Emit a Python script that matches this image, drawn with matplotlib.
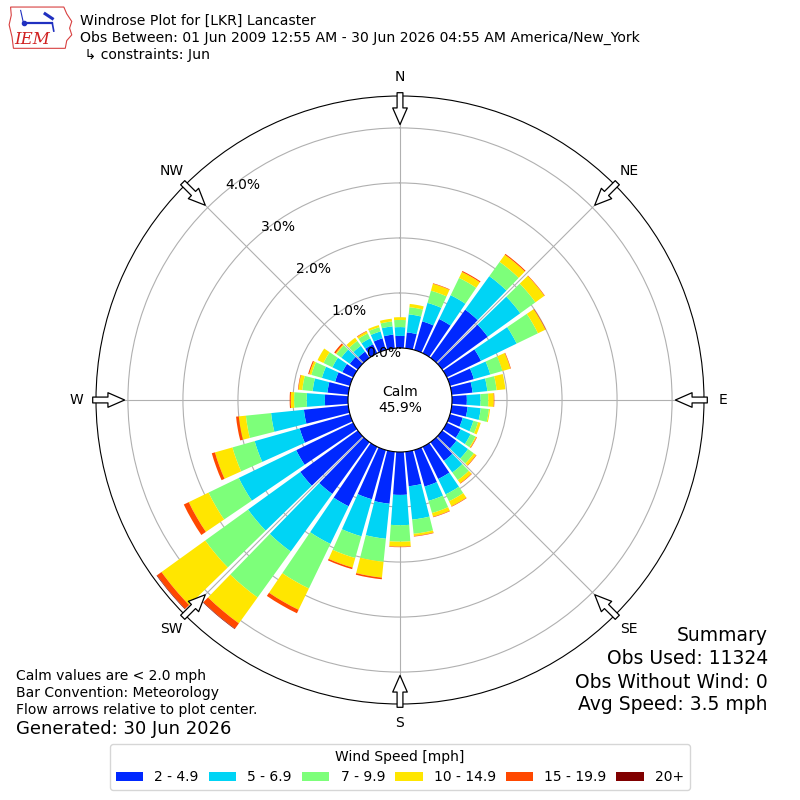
import numpy as np
import matplotlib
matplotlib.use("Agg")
import matplotlib.pyplot as plt
from matplotlib.patches import Patch, Polygon

# direction bins (degrees, meteorological) and frequency (%) per speed bin
directions = np.arange(0, 360, 10)
speed_labels = ["2 - 4.9", "5 - 6.9", "7 - 9.9", "10 - 14.9", "15 - 19.9", "20+"]
speed_colors = ["#0028ff", "#00d4f5", "#7dff7a", "#ffe600", "#ff4800", "#800000"]

spd_2_5 = [0.22, 0.29, 0.54, 0.69, 1.08, 1.02, 0.69, 0.45, 0.38, 0.27, 0.29, 0.24,
           0.28, 0.32, 0.42, 0.65, 0.69, 0.63, 0.78, 0.95, 0.93, 1.20, 1.16, 1.29,
           1.15, 0.95, 0.81, 0.42, 0.38, 0.28, 0.22, 0.18, 0.14, 0.18, 0.22, 0.25]
spd_5_7 = [0.16, 0.33, 0.35, 0.48, 0.75, 0.73, 0.72, 0.31, 0.27, 0.25, 0.24, 0.20,
           0.20, 0.26, 0.26, 0.31, 0.27, 0.61, 0.55, 0.64, 0.70, 0.76, 1.29, 1.17,
           1.16, 0.85, 0.60, 0.33, 0.27, 0.25, 0.20, 0.19, 0.13, 0.12, 0.13, 0.15]
spd_7_10 = [0.13, 0.13, 0.23, 0.35, 0.32, 0.34, 0.43, 0.23, 0.17, 0.14, 0.15, 0.09,
            0.10, 0.13, 0.17, 0.14, 0.23, 0.26, 0.30, 0.42, 0.41, 0.90, 1.03, 0.96,
            0.61, 0.42, 0.46, 0.23, 0.19, 0.20, 0.18, 0.11, 0.11, 0.10, 0.08, 0.09]
spd_10_15 = [0.05, 0.06, 0.13, 0.12, 0.16, 0.20, 0.15, 0.15, 0.16, 0.10, 0.02, 0.05,
             0.02, 0.05, 0.07, 0.10, 0.07, 0.04, 0.09, 0.29, 0.18, 0.43, 0.58, 0.98,
             0.40, 0.33, 0.13, 0.06, 0.07, 0.04, 0.12, 0.02, 0.07, 0.04, 0.04, 0.05]
spd_15_20 = [0.00, 0.00, 0.01, 0.02, 0.02, 0.01, 0.01, 0.01, 0.00, 0.01, 0.00, 0.00,
             0.01, 0.01, 0.01, 0.01, 0.01, 0.01, 0.01, 0.03, 0.03, 0.07, 0.12, 0.10,
             0.10, 0.06, 0.05, 0.02, 0.01, 0.02, 0.00, 0.03, 0.00, 0.01, 0.00, 0.00]
spd_20_up = [0.00, 0.00, 0.00, 0.00, 0.00, 0.00, 0.00, 0.00, 0.00, 0.00, 0.00, 0.00,
             0.00, 0.00, 0.00, 0.00, 0.00, 0.00, 0.00, 0.00, 0.00, 0.00, 0.01, 0.01,
             0.00, 0.00, 0.00, 0.00, 0.00, 0.00, 0.00, 0.00, 0.00, 0.00, 0.00, 0.00]

calm_pct = 45.9
ring_values = [0, 1, 2, 3, 4]
compass = ["N", "NE", "E", "SE", "S", "SW", "W", "NW"]

summary = ["Summary", "Obs Used: 11324", "Obs Without Wind: 0", "Avg Speed: 3.5 mph"]
notes = ["Calm values are < 2.0 mph", "Bar Convention: Meteorology",
         "Flow arrows relative to plot center."]

rmax = 4.58
rorigin = 0.945

fig = plt.figure(figsize=(8, 8), dpi=100)
ax = fig.add_axes([0.12, 0.12, 0.76, 0.76], projection="polar")
ax.set_theta_zero_location("N")
ax.set_theta_direction(-1)
ax.set_ylim(0, rmax)
ax.set_rorigin(-rorigin)

theta = np.radians(directions)
width = np.radians(8.4)
bottom = np.zeros(len(directions))
series = [spd_2_5, spd_5_7, spd_7_10, spd_10_15, spd_15_20, spd_20_up]
for vals, color in zip(series, speed_colors):
    vals = np.array(vals)
    ax.bar(theta, vals, width=width, bottom=bottom, color=color,
           linewidth=0, zorder=2)
    bottom = bottom + vals

ax.set_yticks(ring_values)
ax.set_yticklabels([])
ax.set_xticks(np.radians(np.arange(0, 360, 45)))
ax.set_xticklabels(compass, fontsize=10)
ax.tick_params(axis="x", pad=3.5)
ax.grid(True, color="#b0b0b0", lw=0.8, zorder=0)
ax.set_axisbelow(True)

for v in ring_values:
    ax.text(np.radians(320), v, "%.1f%%" % v, ha="left", va="bottom",
            fontsize=10, zorder=3)

# inward flow arrows
for ang in np.arange(0, 360, 45):
    t = np.radians(ang)
    ax.annotate("", xy=(t, rmax - 0.52), xytext=(t, rmax + 0.06),
                arrowprops=dict(arrowstyle="simple,head_length=1.2,head_width=1.05,tail_width=0.42",
                                fc="white", ec="black", lw=0.9, shrinkA=0, shrinkB=0,
                                mutation_scale=10),
                annotation_clip=False, zorder=5)

ax.text(0.5, 0.5, "Calm\n%.1f%%" % calm_pct, transform=ax.transAxes,
        ha="center", va="center", fontsize=10)

# header
fig.text(0.1, 0.974, "Windrose Plot for [LKR] Lancaster", fontsize=10.1, va="center")
fig.text(0.1, 0.9525, "Obs Between: 01 Jun 2009 12:55 AM - 30 Jun 2026 04:55 AM America/New_York",
         fontsize=10.1, va="center")
fig.text(0.1, 0.931, " \u21b3 constraints: Jun", fontsize=10.1, va="center")

# rough IEM logo
lax = fig.add_axes([0.006, 0.936, 0.09, 0.06])
lax.set_xlim(0, 1)
lax.set_ylim(0, 1)
lax.axis("off")
iowa = [(0.08, 0.92), (0.82, 0.92), (0.86, 0.78), (0.93, 0.62), (0.9, 0.48),
        (0.93, 0.34), (0.86, 0.22), (0.84, 0.06), (0.12, 0.06), (0.1, 0.3),
        (0.06, 0.55), (0.09, 0.75)]
lax.add_patch(Polygon(iowa, closed=True, fill=False, ec="#d84040", lw=0.8))
lax.plot([0.3, 0.66], [0.58, 0.58], color="#2030c0", lw=1.6)
lax.plot([0.26], [0.58], marker="o", ms=3, color="#2030c0")
lax.plot([0.56, 0.66], [0.78, 0.68], color="#2030c0", lw=2.2)
lax.plot([0.66, 0.68], [0.58, 0.42], color="#2030c0", lw=1.2)
lax.plot([0.26, 0.22], [0.58, 0.85], color="#2030c0", lw=0.8)
lax.text(0.38, 0.24, "IEM", color="#d02020", fontsize=12, style="italic",
         family="DejaVu Serif", ha="center", va="center")

# notes
for i, line in enumerate(notes):
    fig.text(0.02, 0.155 - i * 0.0213, line, fontsize=10, va="center")
fig.text(0.02, 0.089, "Generated: 30 Jun 2026", fontsize=13, va="center")

ys = [0.206, 0.1775, 0.1475, 0.119]
for line, y in zip(summary, ys):
    fig.text(0.96, y, line, fontsize=13.5, ha="right", va="center")

handles = [Patch(facecolor=c, label=l) for c, l in zip(speed_colors, speed_labels)]
fig.legend(handles=handles, loc="lower center", bbox_to_anchor=(0.5, 0.0125),
           ncol=6, title="Wind Speed [mph]", fontsize=10, title_fontsize=10,
           columnspacing=0.7, borderaxespad=0)

fig.savefig("out.png", dpi=100)
